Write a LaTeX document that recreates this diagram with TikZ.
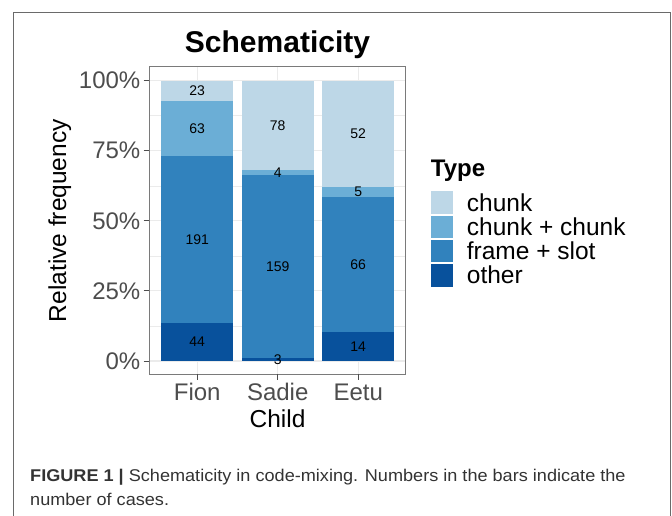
\documentclass[tikz,border=0pt]{standalone}
\usepackage{fontspec}
\setmainfont{Liberation Sans}
\definecolor{chunkc}{HTML}{BDD7E7}
\definecolor{ccc}{HTML}{6BAED6}
\definecolor{fsc}{HTML}{3182BD}
\definecolor{othc}{HTML}{08519C}
\definecolor{gridc}{HTML}{EBEBEB}
\definecolor{tickc}{HTML}{4D4D4D}
\definecolor{borderc}{HTML}{7A7A7A}
\definecolor{framec}{HTML}{6A6A6A}
\definecolor{capc}{HTML}{333333}
\tikzset{
  seg/.style={draw=none},
  barlab/.style={font=\fontsize{14}{16}\selectfont, text=black, inner sep=0pt},
  ticklab/.style={font=\fontsize{24}{28}\selectfont, text=tickc, inner sep=0pt},
  axtitle/.style={font=\fontsize{24.5}{28}\selectfont, text=black, inner sep=0pt},
  legkey/.style={draw=none},
  leglab/.style={font=\fontsize{24.5}{28}\selectfont, text=black, inner sep=0pt, anchor=west},
  majgrid/.style={draw=gridc, line width=1.1pt},
  mingrid/.style={draw=gridc, line width=0.55pt},
  tickmark/.style={draw=tickc, line width=1pt},
  caption/.style={anchor=base west, inner sep=0pt, text=capc, font=\fontsize{17}{20}\selectfont}
}
\begin{document}
\begin{tikzpicture}[x=1pt,y=-1pt]
\useasboundingbox (0,0) rectangle (672,515);
\fill[white] (0,0) rectangle (672,515);
% outer frame
\draw[framec, line width=1.4pt] (13.3,516) -- (13.3,12.3) -- (670.3,12.3) -- (670.3,516);
% title
\node[font=\bfseries\fontsize{30}{34}\selectfont, anchor=base, inner sep=0pt] (title) at (277.5,52) {Schematicity};
% panel
\begin{scope}[shift={(0,361)}, y=280.3pt]
  % minor grid
  \foreach \p in {0.125,0.375,0.625,0.875} \draw[mingrid] (149.3,\p) -- (405.7,\p);
  % major grid
  \foreach \p in {0,0.25,0.5,0.75,1} \draw[majgrid] (149.3,\p) -- (405.7,\p);
  \foreach \xx in {197.2,277.7,358.2} \draw[majgrid] (\xx,-0.0474) -- (\xx,1.05);
  % bars Fion
  \fill[othc]   (161,0) rectangle (233.3,0.13707);
  \fill[fsc]    (161,0.13707) rectangle (233.3,0.73209);
  \fill[ccc]    (161,0.73209) rectangle (233.3,0.92835);
  \fill[chunkc] (161,0.92835) rectangle (233.3,1);
  % Sadie
  \fill[othc]   (241.6,0) rectangle (313.8,0.012295);
  \fill[fsc]    (241.6,0.012295) rectangle (313.8,0.66393);
  \fill[ccc]    (241.6,0.66393) rectangle (313.8,0.68033);
  \fill[chunkc] (241.6,0.68033) rectangle (313.8,1);
  % Eetu
  \fill[othc]   (322,0) rectangle (394.3,0.10219);
  \fill[fsc]    (322,0.10219) rectangle (394.3,0.58394);
  \fill[ccc]    (322,0.58394) rectangle (394.3,0.62044);
  \fill[chunkc] (322,0.62044) rectangle (394.3,1);
  % bar labels
  \node[barlab] (f4) at (197.2,0.0685) {44};
  \node[barlab] (f3) at (197.2,0.4346) {191};
  \node[barlab] (f2) at (197.2,0.8302) {63};
  \node[barlab] (f1) at (197.2,0.9642) {23};
  \node[barlab] (s4) at (277.7,0.00615) {3};
  \node[barlab] (s3) at (277.7,0.3381) {159};
  \node[barlab] (s2) at (277.7,0.6721) {4};
  \node[barlab] (s1) at (277.7,0.8402) {78};
  \node[barlab] (e4) at (358.2,0.0511) {14};
  \node[barlab] (e3) at (358.2,0.3431) {66};
  \node[barlab] (e2) at (358.2,0.6022) {5};
  \node[barlab] (e1) at (358.2,0.8102) {52};
  % border
  \draw[borderc, line width=1pt] (149.3,-0.0474) rectangle (405.7,1.05);
  % y ticks
  \foreach \p/\lab in {0/0\%,0.25/25\%,0.5/50\%,0.75/75\%,1/100\%} {
    \draw[tickmark] (143.5,\p) -- (149.3,\p);
    \node[ticklab, anchor=east] at (140.5,\p) {\lab};
  }
  % x ticks
  \foreach \xx in {197.2,277.7,358.2} \draw[tickmark] (\xx,-0.0474) -- (\xx,-0.0678);
\end{scope}
% x tick labels
\node[ticklab, anchor=base] (xf) at (197.2,400) {Fion};
\node[ticklab, anchor=base] (xs) at (277.7,400) {Sadie};
\node[ticklab, anchor=base] (xe) at (358.2,400) {Eetu};
% axis titles
\node[axtitle, anchor=base] (xt) at (277.5,427.3) {Child};
\node[axtitle, rotate=90, anchor=base] (yt) at (66,220.7) {Relative frequency};
% legend
\node[font=\bfseries\fontsize{24}{28}\selectfont, anchor=base west, inner sep=0pt] (legt) at (430.7,176) {Type};
\fill[chunkc] (430.7,191.3) rectangle (452.7,214.0);
\fill[ccc]    (430.7,215.5) rectangle (452.7,238.2);
\fill[fsc]    (430.7,239.7) rectangle (452.7,262.4);
\fill[othc]   (430.7,263.9) rectangle (452.7,286.6);
\node[leglab] (l1) at (466.7,202.6) {chunk};
\node[leglab] (l2) at (466.7,226.8) {chunk + chunk};
\node[leglab] (l3) at (466.7,251.0) {frame + slot};
\node[leglab] (l4) at (466.7,275.2) {other};
% caption
\node[caption] (cap1) at (30,481.5)
  {\scalebox{1.065}[1]{\textbf{FIGURE 1} \textbf{|} Schematicity in code-mixing. Numbers in the bars indicate the}};
\node[caption] (cap2) at (30,505)
  {\scalebox{1.065}[1]{number of cases.}};
\end{tikzpicture}
\end{document}
